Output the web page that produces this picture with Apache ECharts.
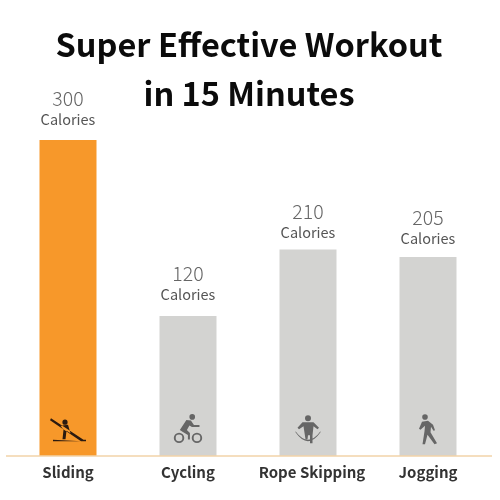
<!DOCTYPE html>
<html><head><meta charset="utf-8">
<style>html,body{margin:0;padding:0;background:#fff}#c{width:500px;height:500px}</style>
<script src="https://cdn.jsdelivr.net/npm/echarts@6/dist/echarts.min.js"></script>
</head><body><div id="c"></div>
<script>
const categories = ['Sliding', 'Cycling', 'Rope Skipping', 'Jogging'];
// Printed calorie labels.
const calorieLabels = [300, 120, 210, 205];
// Bar heights as measured in the picture; the original graphic is not drawn to scale with its labels.
const barHeights = [300, 133, 196, 189];
const iconLevels = [25, 26, 25.5, 25.5];
const labelGaps = [11, 12, 8, 9];
const activeColor = '#F7982A';
const restColor = '#D3D3D1';
const ring = (x, y, r, rev) => `M${x - r} ${y}a${r} ${r} 0 1 ${rev ? 0 : 1} ${2 * r} 0a${r} ${r} 0 1 ${rev ? 0 : 1} ${-2 * r} 0Z`;
const icons = [
  { path: 'M1 0L0 2L31 23L3 21.5V23H36V21.5H33.5Z' + ring(15, 4, 2.6) + 'M10.5 7.5L18 6.5L20.5 15L16.5 12.5L15.5 21H12.5L13.5 11.5Z', size: [36, 23], color: '#2B1A10' },
  { path: ring(5.2, 23.8, 5.2) + ring(5.2, 23.8, 3.3, true) + ring(23, 23.8, 5.2) + ring(23, 23.8, 3.3, true) + ring(18.3, 2.8, 2.8) + 'M6 16L12.5 6L17 6.5L20 11H25.5V13H18L15.5 11.5L13 16L16 19V25.5H14V21L9 18Z', size: [28.4, 29], color: '#666666' },
  { path: ring(12.5, 3, 3) + 'M2 12.5L7 7H18L23.5 12.5L22 14L18 11L17 20V28H14.5V20H12.5L12 24H10L8 11L3.5 14Z' + 'M0 16Q12.5 33 25 16L25 17.2Q12.5 35 0 17.2Z', size: [25, 28], color: '#666666' },
  { path: ring(6, 2.8, 2.8) + 'M3 7.5L9 6.5L14 10.5L16 16L14.5 16.5L12 12.5L11.5 18L18 29L15.5 30L8.5 20.5L6 30H3.5L5.5 17L6 11.5L1.5 15.5L0 14.5Z', size: [18, 30], color: '#666666' }
];
const fontFamily = '"Noto Sans CJK SC","Noto Sans",sans-serif';
const chart = echarts.init(document.getElementById('c'), null, { renderer: 'canvas' });
chart.setOption({
  animation: false,
  backgroundColor: '#fff',
  title: {
    text: 'Super Effective Workout\nin 15 Minutes',
    left: 244, top: 15,
    textAlign: 'center',
    textStyle: { fontFamily, fontSize: 32.5, fontWeight: 'bold', color: '#0B0B0B', lineHeight: 49 }
  },
  grid: { left: 8, width: 480, top: 140, bottom: 44 },
  xAxis: {
    type: 'category',
    data: categories.map((c, i) => i === 2 ? { value: c, textStyle: { padding: [0, 0, 0, 8] } } : c),
    axisTick: { show: false },
    axisLine: { show: false },
    axisLabel: { interval: 0, margin: 9, fontFamily, fontSize: 15, fontWeight: 'bold', color: '#333333' }
  },
  yAxis: { type: 'value', min: 0, max: 300, show: false, splitLine: { show: false } },
  series: [
    {
      type: 'bar', barWidth: 57, silent: true,
      data: barHeights.map((v, i) => ({
        value: v,
        itemStyle: { color: i === 0 ? activeColor : restColor },
        label: { distance: labelGaps[i] }
      })),
      label: {
        show: true, position: 'top',
        formatter: p => `{n|${calorieLabels[p.dataIndex]}}\n{u|Calories}`,
        rich: {
          n: { fontFamily, fontSize: 19.5, fontWeight: 300, color: '#666666', lineHeight: 22, align: 'center' },
          u: { fontFamily, fontSize: 14.5, color: '#555555', lineHeight: 19, align: 'center' }
        }
      }
    },
    {
      type: 'scatter', silent: true, z: 5,
      data: iconLevels.map((v, i) => ({
        value: [i, v],
        symbol: 'path://' + icons[i].path,
        symbolSize: icons[i].size,
        symbolKeepAspect: false,
        itemStyle: { color: icons[i].color, opacity: 1 }
      }))
    }
  ],
  graphic: [{
    type: 'line', z: 10, silent: true,
    shape: { x1: 6, y1: 456, x2: 492, y2: 456 },
    style: { stroke: '#F2D3A8', lineWidth: 1.5 }
  }]
});
</script></body></html>
